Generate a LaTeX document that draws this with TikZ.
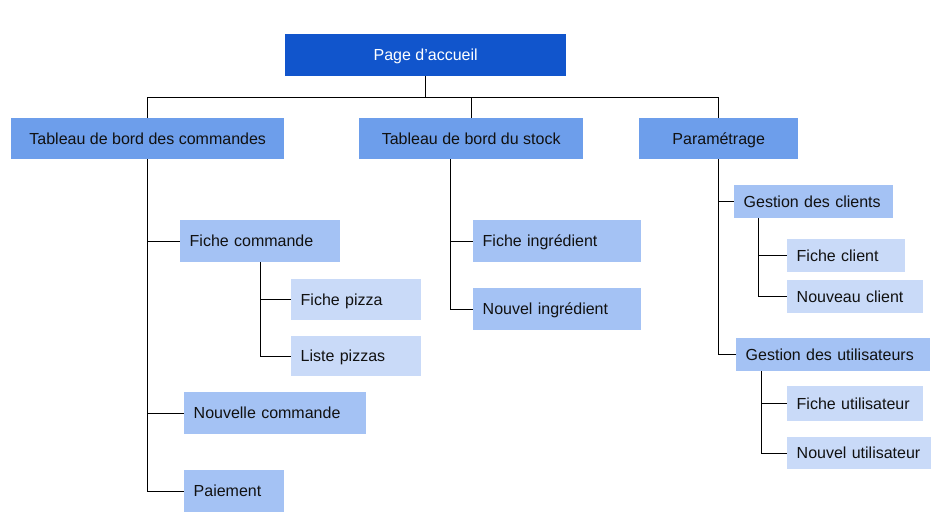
\documentclass[tikz,border=0pt]{standalone}
\usepackage{fontspec}
\usepackage{tikz}
\usepackage{xcolor}
\usetikzlibrary{positioning}
\setmainfont{Liberation Sans}
\definecolor{homeblue}{HTML}{1155CC}
\definecolor{sectionblue}{HTML}{6D9EEB}
\definecolor{pageblue}{HTML}{A4C2F4}
\definecolor{detailblue}{HTML}{C9DAF8}
\definecolor{textdark}{HTML}{111111}

\begin{document}
\begin{tikzpicture}[
    x=1pt, y=-1pt,
    box/.style={rectangle, anchor=north west, inner ysep=0pt, text height=14.5pt, text depth=3.5pt, text=textdark, font=\fontsize{16}{18}\selectfont},
    homebox/.style={box, fill=homeblue, text=white, align=center},
    sectionbox/.style={box, fill=sectionblue, align=center},
    pagebox/.style={box, fill=pageblue, inner xsep=9.5pt, align=left},
    detailbox/.style={box, fill=detailblue, inner xsep=9.5pt, align=left},
    link/.style={draw=black, line width=1pt}
]
\useasboundingbox (0,0) rectangle (940,523);
\node[homebox, minimum width=281pt, minimum height=42pt] (home) at (285,34) {Page d’accueil};
\node[sectionbox, minimum width=273pt, minimum height=41pt] (orders) at (11,118) {Tableau de bord des commandes};
\node[sectionbox, minimum width=224pt, minimum height=41pt] (stock) at (359,118) {Tableau de bord du stock};
\node[sectionbox, minimum width=159pt, minimum height=41pt] (settings) at (639,118) {Paramétrage};
\node[pagebox, text width=141pt, minimum height=42pt] (ordercard) at (180,220) {Fiche commande};
\node[detailbox, text width=111pt, minimum height=41pt] (pizzacard) at (291,279) {Fiche pizza};
\node[detailbox, text width=111pt, minimum height=40pt] (pizzalist) at (291,336) {Liste pizzas};
\node[pagebox, text width=163pt, minimum height=42pt] (neworder) at (184,392) {Nouvelle commande};
\node[pagebox, text width=81pt, minimum height=42pt] (payment) at (184,470) {Paiement};
\node[pagebox, text width=149pt, minimum height=42pt] (ingcard) at (473,220) {Fiche ingrédient};
\node[pagebox, text width=149pt, minimum height=42pt] (newing) at (473,288) {Nouvel ingrédient};
\node[pagebox, text width=140pt, minimum height=33pt] (clients) at (734,185) {Gestion des clients};
\node[detailbox, text width=99pt, minimum height=33pt] (clientcard) at (787,239) {Fiche client};
\node[detailbox, text width=117pt, minimum height=33pt] (newclient) at (787,280) {Nouveau client};
\node[pagebox, text width=175pt, minimum height=33pt] (users) at (736,338) {Gestion des utilisateurs};
\node[detailbox, text width=117pt, minimum height=35pt] (usercard) at (787,386) {Fiche utilisateur};
\node[detailbox, text width=125pt, minimum height=32pt] (newuser) at (787,437) {Nouvel utilisateur};
\draw[link] (home.south) -- ++(0,21) coordinate (bus);
\draw[link] (bus) -| (orders.north);
\draw[link] (bus) -| (stock.north);
\draw[link] (bus) -| (settings.north);
\draw[link] (orders.south) |- (payment.west);
\draw[link] (orders.south |- ordercard.west) -- (ordercard.west);
\draw[link] (orders.south |- neworder.west) -- (neworder.west);
\draw[link] (ordercard.south) |- (pizzalist.west);
\draw[link] (ordercard.south |- pizzacard.west) -- (pizzacard.west);
\draw[link] ([xshift=-21pt]stock.south) |- (newing.west);
\draw[link] ([xshift=-21pt]stock.south |- ingcard.west) -- (ingcard.west);
\draw[link] (settings.south) |- (users.west);
\draw[link] (settings.south |- clients.west) -- (clients.west);
\draw[link] ([xshift=24pt]clients.south west) |- (newclient.west);
\draw[link] ([xshift=24pt]clients.south west |- clientcard.west) -- (clientcard.west);
\draw[link] ([xshift=25pt]users.south west) |- (newuser.west);
\draw[link] ([xshift=25pt]users.south west |- usercard.west) -- (usercard.west);
\end{tikzpicture}
\end{document}
